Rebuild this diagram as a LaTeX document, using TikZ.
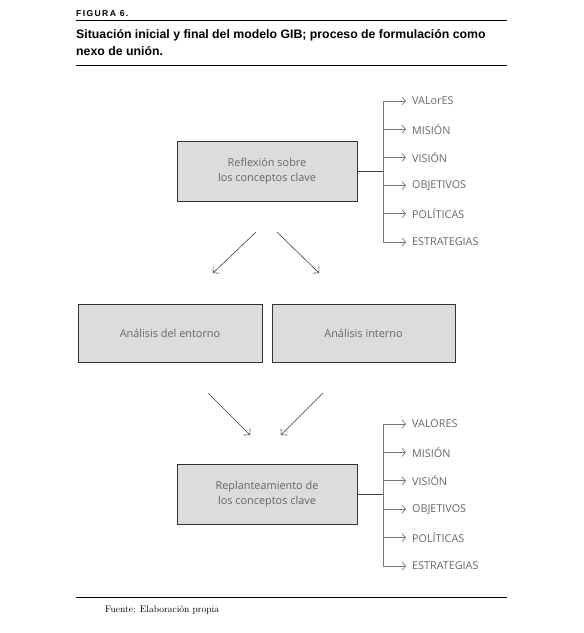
\documentclass[tikz,border=0pt]{standalone}
\usepackage{fontspec}
\newfontfamily\figfont{Open Sans}
\newfontfamily\headfont{Liberation Sans}
\newfontfamily\capfont{Liberation Sans}[LetterSpace=16]
\usetikzlibrary{arrows.meta, positioning}

\definecolor{boxgray}{HTML}{DCDCDC}
\definecolor{textgray}{HTML}{666666}
\definecolor{linegray}{HTML}{777777}

\tikzset{
    concept/.style={draw=black!80, fill=boxgray, line width=0.8pt, align=center,
        minimum width=180pt, minimum height=60pt, inner sep=0pt,
        font=\figfont\fontsize{10.9}{14.5}\selectfont, text=textgray},
    item/.style={anchor=west, inner xsep=6pt, inner ysep=0pt,
        font=\figfont\fontsize{10.8}{12}\selectfont, text=textgray},
    branch/.style={draw=linegray, line width=0.7pt, -{Straight Barb[length=3.5pt, width=8pt]}},
    flow/.style={draw=black!75, line width=0.6pt, -{Straight Barb[length=4pt, width=9pt]}},
    rule/.style={draw=black, line width=0.9pt},
}

\begin{document}
\begin{tikzpicture}[x=1pt, y=-1pt]
    \useasboundingbox (0,0) rectangle (584,633);

    % heading
    \node[anchor=base west, inner sep=0pt, font=\capfont\bfseries\fontsize{8.6}{9}\selectfont]
        (fig) at (76,16.5) {FIGURA 6.};
    \coordinate (h1l) at (76,20);
    \coordinate (h1r) at (507,20);
    \draw[rule] (h1l) -- (h1r);
    \node[anchor=base west, inner sep=0pt, align=left,
        font=\headfont\bfseries\fontsize{12.3}{17}\selectfont]
        (title) at (76,55) {Situación inicial y final del modelo GIB; proceso de formulación como\\nexo de unión.};
    \coordinate (h2l) at (76,65);
    \coordinate (h2r) at (507,65);
    \draw[rule] (h2l) -- (h2r);

    % boxes
    \node[concept]                          (refl)  at (267,171) {Reflexión sobre\\los conceptos clave};
    \node[concept, minimum width=184pt, minimum height=58pt] (ent) at (170,333) {Análisis del entorno};
    \node[concept, minimum width=183pt, minimum height=58pt] (int) at (363.5,333) {Análisis interno};
    \node[concept]                          (repl)  at (267,494) {Replanteamiento de\\los conceptos clave};

    % first list
    \foreach \lbl [count=\i] in {VALorES, MISIÓN, VISIÓN, OBJETIVOS, POLÍTICAS, ESTRATEGIAS} {
        \coordinate (s\i) at (383,{101+28.2*(\i-1)});
        \node[item] (a\i) at (406,{101+28.2*(\i-1)}) {\lbl};
        \draw[branch] (s\i) -- (a\i.west);
    }
    \draw[linegray, line width=0.7pt] (s1) -- (s6);
    \draw[black!75, line width=0.7pt] (refl.east) -- (refl.east -| s1);

    % second list
    \foreach \lbl [count=\i] in {VALORES, MISIÓN, VISIÓN, OBJETIVOS, POLÍTICAS, ESTRATEGIAS} {
        \coordinate (t\i) at (383,{424+28.4*(\i-1)});
        \node[item] (b\i) at (406,{424+28.4*(\i-1)}) {\lbl};
        \draw[branch] (t\i) -- (b\i.west);
    }
    \draw[linegray, line width=0.7pt] (t1) -- (t6);
    \draw[black!75, line width=0.7pt] (repl.east) -- (repl.east -| t1);

    % arrows between stages
    \coordinate (d1) at (256,232);
    \coordinate (d2) at (213,273);
    \coordinate (d3) at (277,232);
    \coordinate (d4) at (319,273);
    \draw[flow] (d1) -- (d2);
    \draw[flow] (d3) -- (d4);
    \coordinate (u1) at (208,393);
    \coordinate (u2) at (250,435);
    \coordinate (u3) at (323,393);
    \coordinate (u4) at (281,435);
    \draw[flow] (u1) -- (u2);
    \draw[flow] (u3) -- (u4);

    % source
    \coordinate (f1) at (76,597);
    \coordinate (f2) at (507,597);
    \draw[rule] (f1) -- (f2);
    \node[anchor=base west, inner sep=0pt, font=\fontsize{9.5}{11}\selectfont]
        (src) at (105,612) {Fuente: Elaboración propia};
\end{tikzpicture}
\end{document}
